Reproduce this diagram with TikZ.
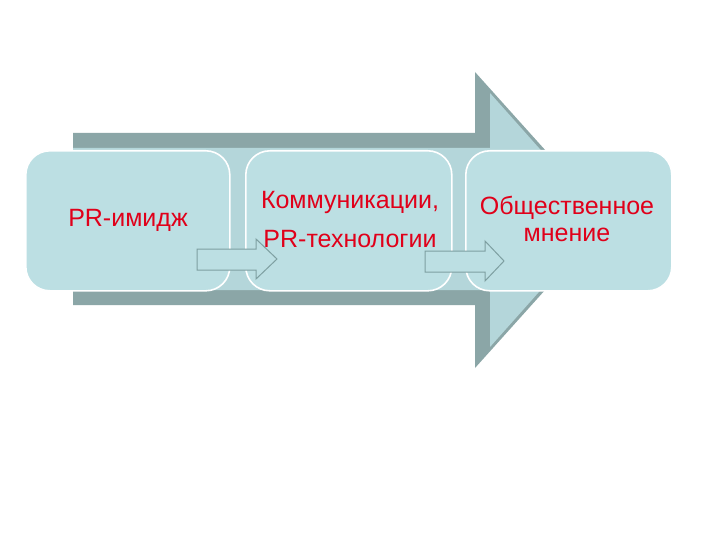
\documentclass[tikz,border=0pt]{standalone}
\usepackage{fontspec}
\setmainfont{Liberation Sans}
\definecolor{darkband}{HTML}{8BA6A7}
\definecolor{shaftfill}{HTML}{B4D6DA}
\definecolor{boxfill}{HTML}{BCDFE3}
\definecolor{txtred}{HTML}{E0001A}
\definecolor{smallline}{HTML}{7E9FA1}
\tikzset{
  stagebox/.style={draw=white, line width=1.6pt, fill=boxfill, rounded corners=24pt,
    minimum width=204pt, minimum height=140pt, anchor=north west, inner sep=0pt},
  label/.style={text=txtred, font=\fontsize{25}{30}\selectfont, inner sep=0pt},
  smallarrow/.style={draw=smallline, line width=1pt, fill=boxfill, line join=miter}
}
\begin{document}
\begin{tikzpicture}[x=1pt,y=-1pt]
\useasboundingbox (0,0) rectangle (720,540);
\fill[white] (0,0) rectangle (720,540);
% big arrow
\fill[darkband] (73,133) -- (475,133) -- (475,72) -- (608,220) -- (475,368) -- (475,305) -- (73,305) -- cycle;
\fill[shaftfill] (73,148) -- (490,148) -- (490,93) -- (603,220) -- (490,347) -- (490,290) -- (73,290) -- cycle;
% boxes
\node[stagebox] (b1) at (25,150) {};
\node[stagebox, minimum width=206pt] (b2) at (245,150) {};
\node[stagebox, minimum width=206pt] (b3) at (465,150) {};
\node[label] (t1) at (128,220) {PR-имидж};
\node[label] (t2a) at (350,202) {Коммуникации,};
\node[label] (t2b) at (350,239) {PR-технологии};
\node[label] (t3a) at (567,208) {Общественное};
\node[label] (t3b) at (567,235) {мнение};
% small arrows
\draw[smallarrow] (197,249) -- (256,249) -- (256,239) -- (277,259) -- (256,279) -- (256,270) -- (197,270) -- cycle;
\draw[smallarrow] (425,251) -- (485,251) -- (485,241) -- (504,261) -- (485,281) -- (485,272) -- (425,272) -- cycle;
\end{tikzpicture}
\end{document}
